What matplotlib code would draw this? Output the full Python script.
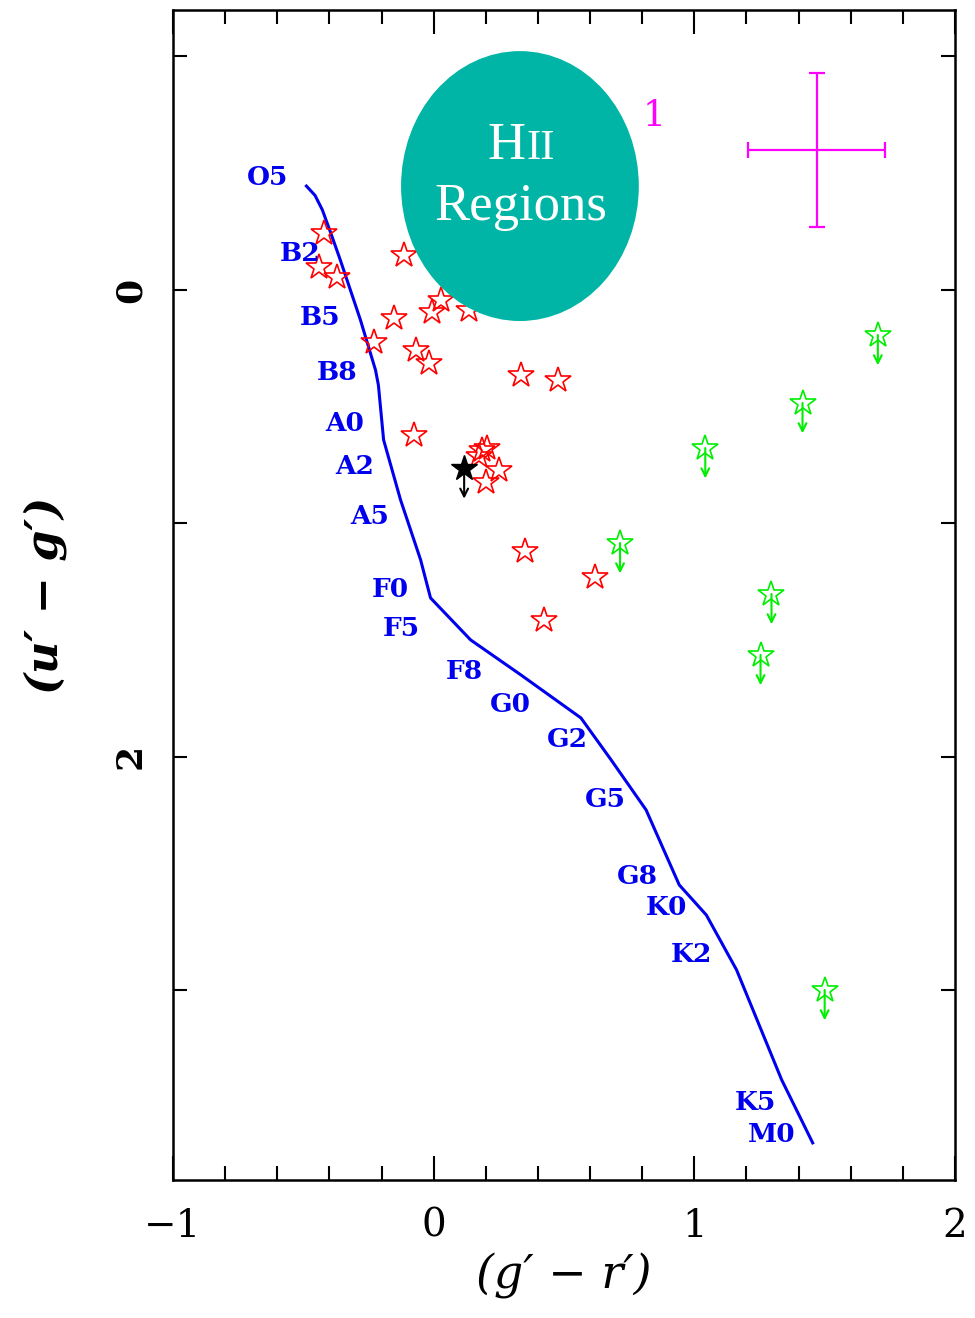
import numpy as np
import matplotlib
matplotlib.use('Agg')
import matplotlib.pyplot as plt
from matplotlib.patches import Ellipse
from matplotlib.ticker import MultipleLocator, FixedLocator, FixedFormatter

# main sequence locus (g'-r', u'-g')
ms_gr = [-0.488, -0.455, -0.427, -0.395, -0.358, -0.281, -0.223, -0.212, -0.192, -0.127, -0.050, -0.012,
         0.142, 0.335, 0.565, 0.681, 0.815, 0.942, 1.046, 1.162, 1.335, 1.392, 1.454]
ms_ug = [-0.445, -0.405, -0.343, -0.245, -0.128, 0.128, 0.343, 0.407, 0.642, 0.899, 1.156, 1.319,
         1.499, 1.649, 1.833, 2.013, 2.227, 2.548, 2.677, 2.912, 3.383, 3.512, 3.653]

# spectral type labels
sp_names = ['O5', 'B2', 'B5', 'B8', 'A0', 'A2', 'A5', 'F0', 'F5', 'F8',
            'G0', 'G2', 'G5', 'G8', 'K0', 'K2', 'K5', 'M0']
sp_gr = [-0.638, -0.512, -0.435, -0.369, -0.342, -0.304, -0.246, -0.165, -0.123, 0.119,
         0.296, 0.512, 0.658, 0.781, 0.892, 0.988, 1.235, 1.296]
sp_ug = [-0.48, -0.158, 0.12, 0.355, 0.574, 0.754, 0.972, 1.285, 1.448, 1.636,
         1.777, 1.927, 2.184, 2.51, 2.647, 2.848, 3.478, 3.619]

# detected sources (red)
red_gr = [-0.422, -0.441, -0.370, -0.114, 0.027, -0.005, 0.135, -0.153, -0.230, -0.069,
          -0.018, 0.335, 0.477, -0.076, 0.187, 0.173, 0.204, 0.251, 0.200, 0.350,
          0.619, 0.423]
red_ug = [-0.243, -0.100, -0.057, -0.150, 0.043, 0.093, 0.086, 0.121, 0.221, 0.257,
          0.314, 0.364, 0.385, 0.621, 0.685, 0.711, 0.677, 0.771, 0.821, 1.118,
          1.229, 1.413]

# upper limits in u' (green)
lim_gr = [1.704, 1.415, 1.042, 0.715, 1.296, 1.254, 1.500]
lim_ug = [0.193, 0.484, 0.677, 1.084, 1.302, 1.563, 2.998]

# black source with upper limit
blk_gr = [0.117]
blk_ug = [0.764]
arrow_len = 0.13

# typical error bar
err_gr, err_ug = 1.469, -0.60
err_dx, err_dy = 0.263, 0.33

# overlay bubble
bubble_xy = (0.331, -0.445)
bubble_w, bubble_h = 0.912, 1.156

fig = plt.figure(figsize=(9.75, 13.18), dpi=100)
ax = fig.add_axes([0.1774, 0.1047, 0.8021, 0.8877])

ax.plot(ms_gr, ms_ug, color='#0000ee', lw=2.2)
for name, x, y in zip(sp_names, sp_gr, sp_ug):
    ax.text(x, y, name, color='#0000ee', fontsize=19, fontweight='bold',
            family='DejaVu Serif', ha='center', va='center')

ax.plot(red_gr, red_ug, linestyle='none', marker='*', markersize=19,
        markerfacecolor='none', markeredgecolor='red', markeredgewidth=1.2)

ax.plot(lim_gr, lim_ug, linestyle='none', marker='*', markersize=19,
        markerfacecolor='none', markeredgecolor='#00ee00', markeredgewidth=1.2)
for x, y in zip(lim_gr, lim_ug):
    ax.annotate('', xy=(x, y + arrow_len), xytext=(x, y),
                arrowprops=dict(arrowstyle='->', color='#00ee00', lw=1.5,
                                shrinkA=0, shrinkB=0, mutation_scale=14))

ax.plot(blk_gr, blk_ug, linestyle='none', marker='*', markersize=19, color='black')
for x, y in zip(blk_gr, blk_ug):
    ax.annotate('', xy=(x, y + arrow_len), xytext=(x, y),
                arrowprops=dict(arrowstyle='->', color='black', lw=1.5,
                                shrinkA=0, shrinkB=0, mutation_scale=14))

ax.errorbar([err_gr], [err_ug], xerr=[err_dx], yerr=[err_dy], fmt='none',
            ecolor='magenta', elinewidth=1.6, capsize=6, capthick=1.6)
ax.text(0.846, -0.745, '1', color='magenta', fontsize=26, family='DejaVu Serif',
        ha='center', va='center')

ax.add_patch(Ellipse(bubble_xy, bubble_w, bubble_h, facecolor='#00b5a5',
                     edgecolor='none', zorder=5))
ax.text(bubble_xy[0] + 0.022, -0.56, 'H', color='white', fontsize=38,
        family='Liberation Serif', ha='right', va='baseline', zorder=6)
ax.text(bubble_xy[0] + 0.026, -0.56, 'II', color='white', fontsize=31,
        family='Liberation Serif', ha='left', va='baseline', zorder=6)
ax.text(bubble_xy[0] + 0.005, -0.355, 'Regions', color='white', fontsize=38,
        family='Liberation Serif', ha='center', va='center', zorder=6)

ax.set_xlim(-1, 2)
ax.set_ylim(3.812, -1.199)

ax.xaxis.set_major_locator(MultipleLocator(1))
ax.xaxis.set_minor_locator(MultipleLocator(0.2))
ax.yaxis.set_major_locator(FixedLocator([-1, 0, 1, 2, 3]))
ax.yaxis.set_major_formatter(FixedFormatter(['', '0', '', '2', '']))
ax.tick_params(axis='both', which='both', direction='in', top=True, right=True,
               width=1.5, colors='black')
ax.tick_params(axis='x', which='major', length=17, pad=20, labelsize=28)
ax.tick_params(axis='x', which='minor', length=10)
ax.tick_params(axis='y', which='major', length=10, pad=18, labelsize=26)
for lab in ax.get_xticklabels():
    lab.set_family('DejaVu Serif')
for lab in ax.get_yticklabels():
    lab.set_family('DejaVu Serif')
    lab.set_fontweight('bold')
    lab.set_rotation(90)
    lab.set_va('center')

for s in ax.spines.values():
    s.set_linewidth(1.8)

ax.set_xlabel('(g\u2032 \u2212 r\u2032)', fontsize=33, family='DejaVu Serif',
              style='italic', labelpad=6)
ax.set_ylabel('(u\u2032 \u2212 g\u2032)', fontsize=32, family='DejaVu Serif',
              style='italic', fontweight='bold', labelpad=34)

plt.savefig('out.png', dpi=100)
